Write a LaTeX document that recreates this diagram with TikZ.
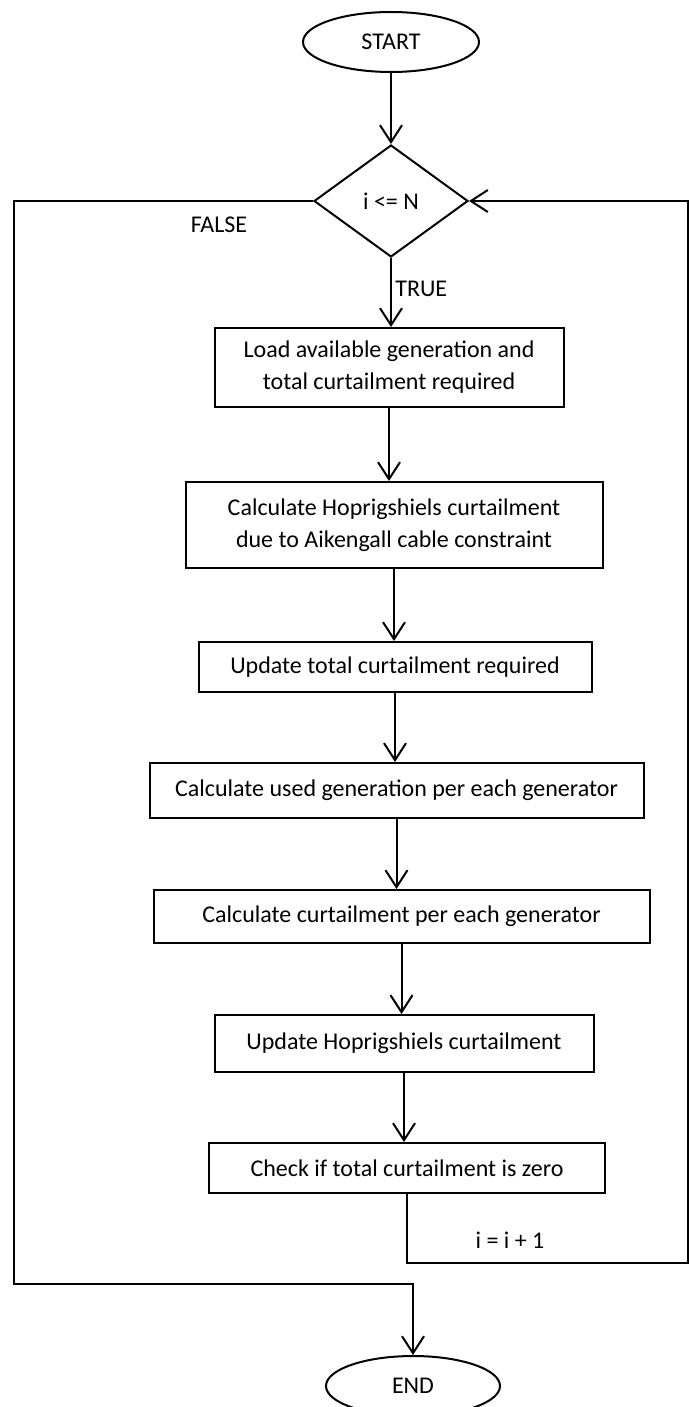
\documentclass[tikz,border=0pt]{standalone}
\usepackage{fontspec}
\setmainfont{Carlito}
\usetikzlibrary{arrows.meta,positioning,shapes.geometric}

\begin{document}
\begin{tikzpicture}[x=1pt,y=-1pt,on grid,line width=2pt,
        font=\fontsize{24}{32}\selectfont,
        >={Straight Barb[length=17pt,width=22pt]},
        term/.style={draw,ellipse,minimum width=176pt,minimum height=60pt,inner sep=0pt},
        test/.style={draw,diamond,minimum width=154pt,minimum height=112pt,inner sep=0pt},
        process/.style={draw,rectangle,align=center,inner sep=0pt}]
    \useasboundingbox (0,0) rectangle (689,1407);
    \node[term] (start) at (391,42) {START};
    \node[test] (cond) [below=159pt of start] {i <= N};
    \node[process,minimum width=349pt,minimum height=79pt] (load) [below=166.5pt of cond,xshift=-2pt]
        {Load available generation and\\total curtailment required};
    \node[process,minimum width=417pt,minimum height=86pt] (hop) [below=157.5pt of load,xshift=5pt]
        {Calculate Hoprigshiels curtailment\\due to Aikengall cable constraint};
    \node[process,minimum width=393pt,minimum height=50pt] (upd) [below=142pt of hop,xshift=1pt]
        {Update total curtailment required};
    \node[process,minimum width=494pt,minimum height=55pt] (used) [below=123.5pt of upd,xshift=1.5pt]
        {Calculate used generation per each generator};
    \node[process,minimum width=496pt,minimum height=53pt] (curt) [below=126pt of used,xshift=5pt]
        {Calculate curtailment per each generator};
    \node[process,minimum width=379pt,minimum height=57pt] (updhop) [below=127pt of curt,xshift=2.5pt]
        {Update Hoprigshiels curtailment};
    \node[process,minimum width=396pt,minimum height=50pt] (check) [below=124.5pt of updhop,xshift=3pt]
        {Check if total curtailment is zero};
    \node[term,minimum width=174pt] (stop) [below=218pt of check,xshift=6pt] {END};

    \node (false) at (219,225) {FALSE};
    \node (incr) at (510,1240) {i = i + 1};
    \coordinate (lowleft) at (14,1284);
    \coordinate (lowright) at (688,1263);

    \path[->]
        (start) edge (cond)
        (cond.south) edge node[right,pos=0.45] {TRUE} (cond.south |- load.north)
        (load.south) edge (load.south |- hop.north)
        (hop.south) edge (hop.south |- upd.north)
        (upd.south) edge (upd.south |- used.north)
        (used.south) edge (used.south |- curt.north)
        (curt.south) edge (curt.south |- updhop.north)
        (updhop.south) edge (updhop.south |- check.north);
    \draw[->] (cond.west) -| (lowleft) -| (stop.north);
    \draw[->] (check.south) |- (lowright) |- (cond.east);
\end{tikzpicture}
\end{document}
